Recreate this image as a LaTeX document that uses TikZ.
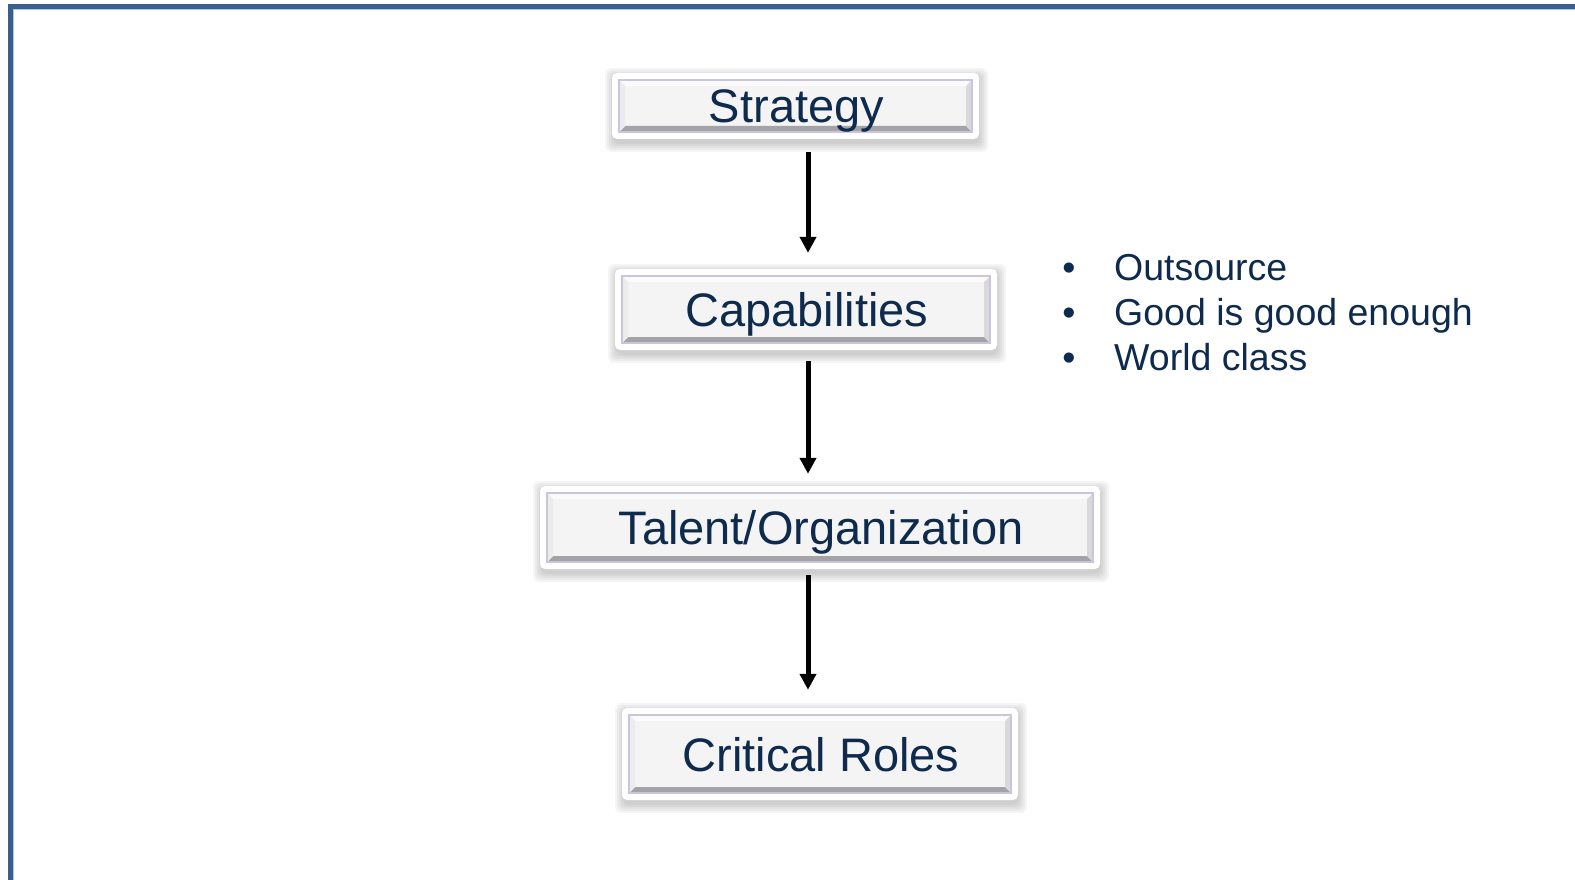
\documentclass[tikz,border=0pt]{standalone}
\usepackage{fontspec}
\setmainfont{Liberation Sans}
\usetikzlibrary{arrows.meta}
\definecolor{navy}{HTML}{0E2B4D}
\definecolor{framebl}{HTML}{3A5E8E}
\definecolor{frameedge}{HTML}{AFC4E2}
\definecolor{bevellight}{HTML}{FBFBFB}
\definecolor{bevelleft}{HTML}{ECECEE}
\definecolor{bevelright}{HTML}{D9D9DC}
\definecolor{beveldark}{HTML}{A4A4A8}
\definecolor{bevelface}{HTML}{F4F4F5}
\definecolor{beveloutline}{HTML}{CBC4DA}

\tikzset{
  outerframe/.style={draw=none, fill=white, rounded corners=5pt, inner sep=0pt},
  tiertext/.style={font=\fontsize{47}{56}\selectfont, text=navy, inner sep=0pt},
  bullettext/.style={font=\fontsize{37.5}{45}\selectfont, text=navy, inner sep=0pt},
  flow/.style={line width=5pt, -{Triangle[width=16pt,length=16pt]}},
}

% name, centre x, centre y, outer width, outer height, label
\newcommand{\tierbox}[6]{%
  \foreach \s in {9,7,5,3,1}{%
    \fill[black, opacity=0.04, rounded corners=6pt]
      (#2-#4/2-\s+2, #3-#5/2-\s+4) rectangle (#2+#4/2+\s, #3+#5/2+\s+4);
  }
  \node[outerframe, minimum width=#4pt, minimum height=#5pt] (#1-frame) at (#2,#3) {};
  \pgfmathsetmacro{\xa}{#2-#4/2+7}
  \pgfmathsetmacro{\xb}{#2+#4/2-7}
  \pgfmathsetmacro{\ya}{#3-#5/2+7}
  \pgfmathsetmacro{\yb}{#3+#5/2-7}
  \def\bw{6}
  \fill[bevelface] (\xa,\ya) rectangle (\xb,\yb);
  \fill[bevellight] (\xa,\ya) -- (\xb,\ya) -- (\xb-\bw,\ya+\bw) -- (\xa+\bw,\ya+\bw) -- cycle;
  \fill[beveldark] (\xa,\yb) -- (\xb,\yb) -- (\xb-\bw,\yb-\bw) -- (\xa+\bw,\yb-\bw) -- cycle;
  \fill[bevelleft] (\xa,\ya) -- (\xa+\bw,\ya+\bw) -- (\xa+\bw,\yb-\bw) -- (\xa,\yb) -- cycle;
  \fill[bevelright] (\xb,\ya) -- (\xb-\bw,\ya+\bw) -- (\xb-\bw,\yb-\bw) -- (\xb,\yb) -- cycle;
  \draw[beveloutline, line width=1.2pt] (\xa,\ya) rectangle (\xb,\yb);
  \node[tiertext, anchor=base] (#1) at (#2+1,#3+17) {#6};
}

\begin{document}
\begin{tikzpicture}[x=1pt, y=-1pt]
  \useasboundingbox (0,0) rectangle (1575,880);
  \fill[white] (0,0) rectangle (1575,880);
  \clip (0,0) rectangle (1575,880);

  % slide border (top and left)
  \draw[framebl, line width=5.5pt] (10.5,890) -- (10.5,6.5) -- (1590,6.5);
  \draw[frameedge, line width=1pt] (13.8,890) -- (13.8,9.8) -- (1590,9.8);

  % tiers
  \tierbox{strat}{795.5}{106}{367}{66}{Strategy}
  \tierbox{cap}{806}{309.5}{382}{81}{Capabilities}
  \tierbox{tal}{820}{527.5}{560}{83}{Talent/Organization}
  \tierbox{crit}{820}{754}{396}{92}{Critical Roles}

  % connectors, all on one vertical line through the capabilities tier
  \draw[flow, shorten <=13pt, shorten >=16pt]
    ([xshift=2pt]strat-frame.south -| cap-frame.center) -- ([xshift=2pt]cap-frame.north);
  \draw[flow, shorten <=11pt, shorten >=12pt]
    ([xshift=2pt]cap-frame.south) -- ([xshift=2pt]cap-frame.south |- tal-frame.north);
  \draw[flow, shorten <=6pt, shorten >=18pt]
    ([xshift=2pt]tal-frame.south -| cap-frame.center) -- ([xshift=2pt]cap-frame.center |- crit-frame.north);

  % options list
  \node[bullettext, anchor=base] (dot1) at (1069,280) {•};
  \node[bullettext, anchor=base] (dot2) at (1069,325) {•};
  \node[bullettext, anchor=base] (dot3) at (1069,370) {•};
  \node[bullettext, anchor=base west] (opt1) at (1114,280) {Outsource};
  \node[bullettext, anchor=base west] (opt2) at (1114,325) {Good is good enough};
  \node[bullettext, anchor=base west] (opt3) at (1114,370) {World class};
\end{tikzpicture}
\end{document}
